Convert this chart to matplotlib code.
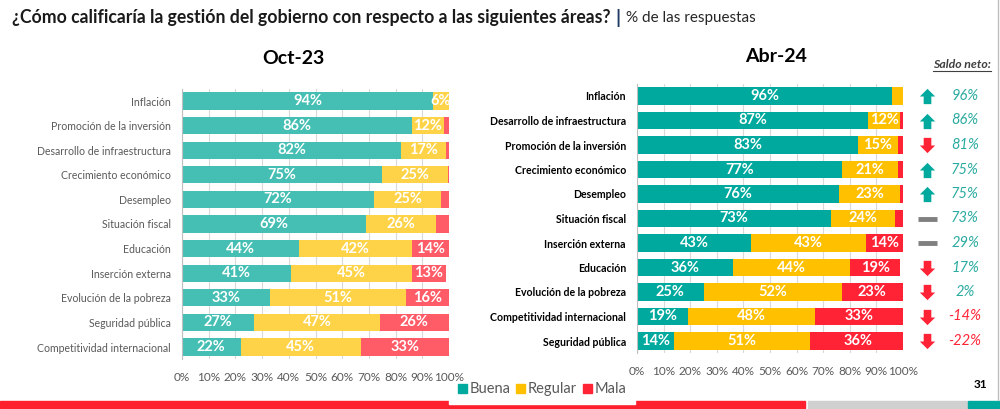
import numpy as np
import matplotlib
matplotlib.use('Agg')
import matplotlib.pyplot as plt
from matplotlib.path import Path
from matplotlib.patches import Rectangle

plt.rcParams['font.family'] = ['Lato', 'DejaVu Sans']

# ---- data ----
cats_oct = ['Inflación', 'Promoción de la inversión', 'Desarrollo de infraestructura',
            'Crecimiento económico', 'Desempleo', 'Situación fiscal', 'Educación',
            'Inserción externa', 'Evolución de la pobreza', 'Seguridad pública',
            'Competitividad internacional']
buena_oct = [94, 86, 82, 74.8, 72, 69, 44, 41, 33, 27, 22]
regular_oct = [6, 12, 17, 24.8, 25, 26, 42, 45, 51, 47, 45]
mala_oct = [0, 2, 1, 0.4, 3, 5, 14, 13, 16, 26, 33]

cats_abr = ['Inflación', 'Desarrollo de infraestructura', 'Promoción de la inversión',
            'Crecimiento económico', 'Desempleo', 'Situación fiscal', 'Inserción externa',
            'Educación', 'Evolución de la pobreza', 'Competitividad internacional',
            'Seguridad pública']
buena_abr = [96, 87, 83, 77, 76, 73, 43, 36, 25, 19, 14]
regular_abr = [4, 12, 15, 21, 23, 24, 43, 44, 52, 48, 51]
mala_abr = [0, 1, 2, 2, 1, 3, 14, 19, 23, 33, 36]

saldo_neto = [96, 86, 81, 75, 75, 73, 29, 17, 2, -14, -22]
tendencia = ['up', 'up', 'down', 'up', 'up', 'flat', 'flat', 'down', 'down', 'down', 'down']

series = ['Buena', 'Regular', 'Mala']
colors_oct = ['#45BFB4', '#FFD347', '#FF5C68']
colors_abr = ['#00A99D', '#FFC000', '#FF2335']

W, H = 1000, 409
fig = plt.figure(figsize=(W / 100, H / 100), dpi=100)


def rect(x0, x1, ytop, ybot):
    return [x0 / W, 1 - ybot / H, (x1 - x0) / W, (ybot - ytop) / H]


def panel(r, cats, vals, colors, bold):
    ax = fig.add_axes(r)
    y = np.arange(len(cats))
    left = np.zeros(len(cats))
    for v, c in zip(vals, colors):
        v = np.array(v, float)
        ax.barh(y, v, left=left, height=0.7, color=c, zorder=2)
        for yi, l, w in zip(y, left, v):
            if w > 5:
                ax.text(l + w / 2, yi, f'{w:.0f}%', ha='center', va='center',
                        color='white', fontweight='bold', fontsize=10.5)
        left += v
    ax.set_xlim(0, 100)
    ax.set_ylim(len(cats) - 0.5, -0.5)
    ax.set_yticks(y, cats, fontsize=7.6, fontweight='bold' if bold else 'normal',
                  color='black' if bold else '#595959')
    ticks = list(range(0, 101, 10))
    ax.set_xticks(ticks, [f'{t}%' for t in ticks], fontsize=8.5, color='#595959')
    ax.tick_params(length=0)
    ax.tick_params(axis='y', pad=8)
    ax.tick_params(axis='x', pad=9)
    ax.grid(axis='x', color='#D9D9D9', lw=0.8, zorder=0)
    for s in ['top', 'right', 'bottom']:
        ax.spines[s].set_visible(False)
    ax.spines['left'].set_color('#BFBFBF')
    return ax


ax1 = panel(rect(182, 449, 88.7, 359.3), cats_oct,
            [buena_oct, regular_oct, mala_oct], colors_oct, False)
ax2 = panel(rect(637, 903, 83.75, 353.25), cats_abr,
            [buena_abr, regular_abr, mala_abr], colors_abr, True)

# saldo neto column
ax3 = fig.add_axes(rect(905, 1000, 83.75, 353.25))
ax3.set_xlim(905, 1000)
ax3.set_ylim(len(cats_abr) - 0.5, -0.5)
ax3.axis('off')
up = Path([(-0.25, -0.5), (0.25, -0.5), (0.25, 0), (0.5, 0), (0, 0.5),
           (-0.5, 0), (-0.25, 0), (-0.25, -0.5)], closed=True)
down = Path([(-0.25, 0.5), (0.25, 0.5), (0.25, 0), (0.5, 0), (0, -0.5),
             (-0.5, 0), (-0.25, 0), (-0.25, 0.5)], closed=True)
for i, (v, t) in enumerate(zip(saldo_neto, tendencia)):
    if t == 'up':
        ax3.plot(927, i, marker=up, ms=11, color='#00A99D', mew=0)
    elif t == 'down':
        ax3.plot(927, i, marker=down, ms=11, color='#FF2335', mew=0)
    else:
        ax3.plot([918, 937], [i, i], color='#808080', lw=3.5, solid_capstyle='butt')
    ax3.text(965, i, f'{v}%', ha='center', va='center', fontsize=10.5,
             fontstyle='italic', color='#2AABA0' if v >= 0 else '#FF2335')

fig.text(962 / W, 1 - 64 / H, 'Saldo neto:', ha='center', va='center', fontsize=8.8,
         fontweight='bold', fontstyle='italic', color='#404040')
fig.add_artist(plt.Line2D([933 / W, 991 / W], [1 - 70.5 / H, 1 - 70.5 / H], color='#404040', lw=0.8))

# panel titles
fig.text(293 / W, 1 - 58 / H, 'Oct-23', ha='center', va='center', fontsize=14, fontweight='bold')
fig.text(776 / W, 1 - 57 / H, 'Abr-24', ha='center', va='center', fontsize=14, fontweight='bold')

# main title in pieces
renderer = fig.canvas.get_renderer()
x = 12
for txt, kw in [('¿Cómo calificaría la gestión del gobierno con respecto a las siguientes áreas?',
                 dict(fontweight='bold', color='#1A1A1A', fontsize=12.7)),
                ('|', dict(fontweight='bold', color='#1F3864', fontsize=14)),
                ('% de las respuestas', dict(color='#262626', fontsize=11))]:
    t = fig.text(x / W, 1 - 18 / H, txt, ha='left', va='center', **kw)
    bb = t.get_window_extent(renderer)
    x += bb.width + 5

# legend
for cx, lab, c in [(462, 'Buena', colors_abr[0]), (520, 'Regular', colors_abr[1]),
                   (587, 'Mala', colors_abr[2])]:
    fig.add_artist(Rectangle((cx / W - 4 / W, 1 - 393 / H), 9 / W, 9 / H, color=c,
                             transform=fig.transFigure))
    fig.text((cx + 8) / W, 1 - 389 / H, lab, ha='left', va='center', fontsize=10.5, color='#595959')

# footer stripes
fig.add_artist(Rectangle((0, 1 - 408 / H), 805 / W, 7 / H, color='#FF1F2D', transform=fig.transFigure))
fig.add_artist(Rectangle((449 / W, 1 - 404 / H), 186 / W, 4 / H, color='white', transform=fig.transFigure))
fig.add_artist(Rectangle((808 / W, 1 - 408 / H), 159 / W, 7 / H, color='#D0D0D0', transform=fig.transFigure))
fig.add_artist(Rectangle((968 / W, 1 - 408 / H), 32 / W, 7 / H, color='#00A99D', transform=fig.transFigure))
fig.add_artist(plt.Line2D([998 / W, 998 / W], [1 - 400 / H, 1], color='#BFBFBF', lw=1))
fig.text(980 / W, 1 - 385 / H, '31', ha='center', va='center', fontsize=8.5, fontweight='bold')

fig.savefig('out.png', dpi=100)
